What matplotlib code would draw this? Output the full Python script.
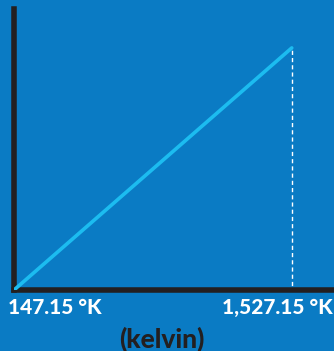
import matplotlib.pyplot as plt
import matplotlib.transforms as mtransforms

DPI = 100

# Chart data.
kelvin = [147.15, 1527.15]
values = [147.15, 1527.15]
tick_labels = ['147.15 °K', '1,527.15 °K']
axis_title = '(kelvin)'

BG = '#0a7bc4'
LINE = '#1cbcf0'
DARK = '#231f20'

plt.rcParams['font.family'] = ['Lato', 'DejaVu Sans']

fig = plt.figure(figsize=(334/DPI, 351/DPI), dpi=DPI, facecolor=BG)
ax = fig.add_axes([14/334, 1 - 290/351, 1 - 14/334, (290 - 9)/351])
ax.set_facecolor(BG)

ax.plot(kelvin, values, color=LINE, lw=2.6, solid_capstyle='round', zorder=3)
# dashed drop line from the end point
ax.plot([kelvin[-1], kelvin[-1]], [kelvin[0], values[-1]], color='white',
        lw=1, ls=(2, (3, 2.2)), zorder=2)

ax.set_xlim(147.15, 1737)
ax.set_ylim(147.15, 1749)

for side in ['top', 'right']:
    ax.spines[side].set_visible(False)
for side in ['left', 'bottom']:
    ax.spines[side].set_color(DARK)
    ax.spines[side].set_linewidth(4)
    ax.spines[side].set_capstyle('projecting')

ax.set_xticks([])
ax.set_yticks([])

# tick labels below the axis
trans = ax.get_xaxis_transform()
offsets = [-6, -70]
for x, lab, dx in zip(kelvin, tick_labels, offsets):
    off = mtransforms.offset_copy(trans, fig=fig, x=dx, y=-8, units='dots')
    ax.text(x, 0, lab, transform=off, ha='left', va='top', color='white',
            fontsize=15, fontweight='black')

fig.text(162/334, 1 - 339/351, axis_title, ha='center', va='center',
         color=DARK, fontsize=19, fontweight='black')

plt.savefig('out.png', dpi=DPI, facecolor=BG)
